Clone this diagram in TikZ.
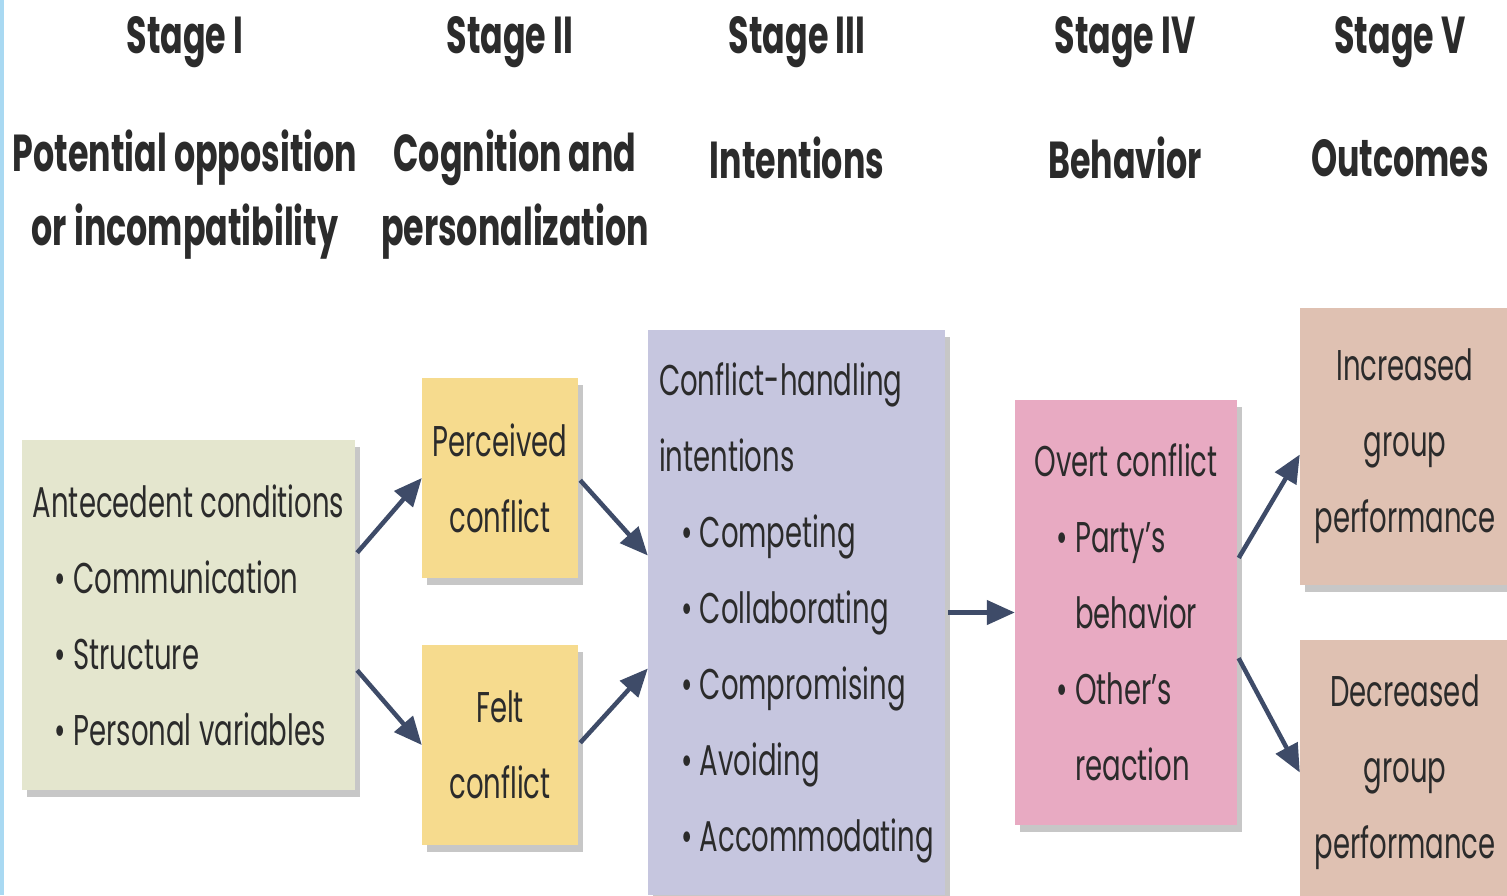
\documentclass[tikz,border=0pt]{standalone}
\usepackage{fontspec}
\setmainfont{Poppins}[FakeStretch=0.64]
\usetikzlibrary{arrows.meta,shadows}

\definecolor{antefill}{HTML}{E4E6CE}
\definecolor{feelfill}{HTML}{F6DB8E}
\definecolor{intentfill}{HTML}{C6C6DF}
\definecolor{overtfill}{HTML}{E8AAC2}
\definecolor{outfill}{HTML}{DFC1B2}
\definecolor{arrowcol}{HTML}{3E4B68}
\definecolor{textcol}{HTML}{2B2B2B}
\definecolor{edgeblue}{HTML}{A9D9F2}

\tikzset{
  stagebox/.style={fill=#1, inner sep=0pt, align=left, text=textcol,
    font=\fontsize{43}{76}\selectfont,
    drop shadow={shadow xshift=5pt, shadow yshift=-7pt, opacity=0.22, fill=black}},
  stagehead/.style={inner sep=0pt, align=center, text=textcol,
    font=\bfseries\fontsize{52}{74}\selectfont},
  flow/.style={draw=arrowcol, line width=4.5pt, shorten <=3pt,
    -{Triangle[length=28pt,width=24pt]}}
}

\begin{document}
\begin{tikzpicture}[x=1pt, y=-1pt]
  \useasboundingbox (0,0) rectangle (1507,895);
  \fill[white] (0,0) rectangle (1507,895);
  \fill[edgeblue] (0,0) rectangle (4,895);

  % stage headings
  \node[stagehead] (s1) at (185,42) {Stage I};
  \node[stagehead] (s2) at (510,42) {Stage II};
  \node[stagehead] (s3) at (797,42) {Stage III};
  \node[stagehead] (s4) at (1125,42) {Stage IV};
  \node[stagehead] (s5) at (1400,42) {Stage V};
  \node[stagehead] (t1) at (185,195) {Potential opposition\\or incompatibility};
  \node[stagehead] (t2) at (515,195) {Cognition and\\personalization};
  \node[stagehead] (t3) at (797,158) {Intentions};
  \node[stagehead] (t4) at (1125,158) {Behavior};
  \node[stagehead] (t5) at (1400,158) {Outcomes};

  % boxes
  \node[stagebox=antefill, minimum width=333pt, minimum height=350pt] (ante) at (188.5,615)
    {Antecedent conditions\\
     \hspace{22pt}\textbullet\ Communication\\
     \hspace{22pt}\textbullet\ Structure\\
     \hspace{22pt}\textbullet\ Personal variables};
  \node[stagebox=feelfill, align=center, minimum width=156pt, minimum height=200pt] (perc) at (500,478)
    {Perceived\\conflict};
  \node[stagebox=feelfill, align=center, minimum width=156pt, minimum height=200pt] (felt) at (500,745)
    {Felt\\conflict};
  \node[stagebox=intentfill, minimum width=297pt, minimum height=565pt] (intent) at (796.5,612.5)
    {Conflict-handling\\
     intentions\\
     \hspace{22pt}\textbullet\ Competing\\
     \hspace{22pt}\textbullet\ Collaborating\\
     \hspace{22pt}\textbullet\ Compromising\\
     \hspace{22pt}\textbullet\ Avoiding\\
     \hspace{22pt}\textbullet\ Accommodating};
  \node[stagebox=overtfill, minimum width=222pt, minimum height=425pt] (overt) at (1126,612.5)
    {Overt conflict\\
     \hspace{22pt}\textbullet\ Party's\\
     \hspace{22pt}\phantom{\textbullet\ }behavior\\
     \hspace{22pt}\textbullet\ Other's\\
     \hspace{22pt}\phantom{\textbullet\ }reaction};
  \node[stagebox=outfill, align=center, minimum width=210pt, minimum height=277pt] (incr) at (1405,446.5)
    {Increased\\group\\performance};
  \node[stagebox=outfill, align=center, minimum width=210pt, minimum height=265pt] (decr) at (1405,772.5)
    {Decreased\\group\\performance};

  % arrows
  \draw[flow] ([yshift=60pt]ante.east) -- (perc.west);
  \draw[flow] ([yshift=-53pt]ante.east) -- (felt.west);
  \draw[flow] (perc.east) -- ([yshift=57pt]intent.west);
  \draw[flow] (felt.east) -- ([yshift=-56pt]intent.west);
  \draw[flow] (intent.east) -- (overt.west);
  \draw[flow] ([yshift=52pt]overt.east) -- ([yshift=-8pt]incr.west);
  \draw[flow] ([yshift=-43pt]overt.east) -- (decr.west);
\end{tikzpicture}
\end{document}
